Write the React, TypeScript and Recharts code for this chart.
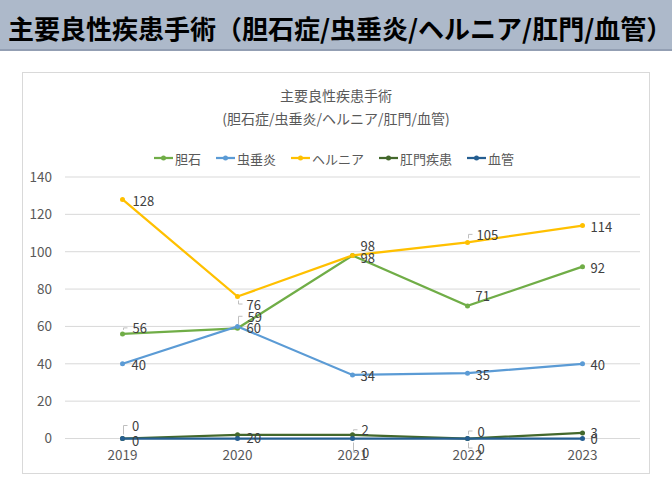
import React from 'react';
import { LineChart, Line, XAxis, YAxis, CartesianGrid } from 'recharts';

const years = ['2019', '2020', '2021', '2022', '2023'];
const gallstone = [56, 59, 98, 71, 92];
const appendicitis = [40, 60, 34, 35, 40];
const hernia = [128, 76, 98, 105, 114];
const anal = [0, 2, 2, 0, 3];
const vascular = [0, 0, 0, 0, 0];
const yTicks = [0, 20, 40, 60, 80, 100, 120, 140];

const FONT = '"Noto Sans CJK JP", "Noto Sans", sans-serif';

const SERIES = [
  { key: 'gallstone', name: '胆石', color: '#70ad47' },
  { key: 'appendicitis', name: '虫垂炎', color: '#5b9bd5' },
  { key: 'hernia', name: 'ヘルニア', color: '#ffc000' },
  { key: 'anal', name: '肛門疾患', color: '#43682b' },
  { key: 'vascular', name: '血管', color: '#255e91' },
];

const data = years.map((year, i) => ({
  year,
  gallstone: gallstone[i],
  appendicitis: appendicitis[i],
  hernia: hernia[i],
  anal: anal[i],
  vascular: vascular[i],
}));

// label placement per point: [dx, dy, leader line]
const labelPos: Record<string, [number, number, boolean][]> = {
  gallstone: [[10, -6, true], [10, -12, true], [8, 2.5, false], [8, -10, false], [8, 1, false]],
  appendicitis: [[9, 1, false], [9, 1, false], [8, 1, false], [8, 1, false], [8, 1, false]],
  hernia: [[10, 1, false], [9, 7.5, true], [8, -9.5, false], [9, -8, true], [8, 1, false]],
  anal: [[9.5, -13, true], [9, 3, false], [9, -5, true], [10, -7.5, true], [8, 0, false]],
  vascular: [[9.5, 2, false], [16.5, -1.5, false], [9.5, 14, true], [10, 9.5, true], [8, 0, false]],
};

const makeLabel = (key: string) => (props: any) => {
  const { x, y, value, index } = props;
  const [dx, dy, leader] = labelPos[key][index];
  return (
    <g key={`${key}-lbl-${index}`}>
      {leader && (
        <path
          d={
            dy < 0
              ? `M${x + 1},${y - 4} V${y + dy} H${x + 5}`
              : `M${x + 1},${y + 4} V${y + dy} H${x + 5}`
          }
          fill="none"
          stroke="#bfbfbf"
          strokeWidth={1}
        />
      )}
      <text
        x={x + dx}
        y={y + dy}
        dominantBaseline="central"
        fontSize={13}
        fontFamily={FONT}
        fill="#404040"
      >
        {value}
      </text>
    </g>
  );
};

const LegendIcon = ({ color }: { color: string }) => (
  <svg width={19} height={10} style={{ display: 'block' }}>
    <line x1={0} y1={5} x2={19} y2={5} stroke={color} strokeWidth={2.25} />
    <circle cx={9.5} cy={5} r={2.5} fill={color} />
  </svg>
);

export default function App() {
  return (
    <div
      style={{
        position: 'absolute',
        left: 0,
        top: 0,
        width: 672,
        height: 504,
        background: '#ffffff',
        fontFamily: FONT,
        overflow: 'hidden',
      }}
    >
      {/* page title band */}
      <div
        style={{
          position: 'absolute',
          left: 0,
          top: 0,
          width: 672,
          height: 49,
          background: '#adb9ca',
          borderBottom: '2px solid #939fb3',
        }}
      >
        <div
          style={{
            position: 'absolute',
            left: 8,
            top: 28,
            transform: 'translateY(-50%)',
            fontSize: 26,
            fontWeight: 700,
            color: '#000',
            whiteSpace: 'nowrap',
            lineHeight: 1,
          }}
        >
          主要良性疾患手術（胆石症/虫垂炎/ヘルニア/肛門/血管）
        </div>
      </div>

      {/* chart frame */}
      <div
        style={{
          position: 'absolute',
          left: 22,
          top: 72,
          width: 626,
          height: 400,
          border: '1px solid #d9d9d9',
        }}
      />

      {/* chart title */}
      <div
        style={{
          position: 'absolute',
          left: 0,
          width: 672,
          top: 84,
          textAlign: 'center',
          fontSize: 14,
          color: '#595959',
          lineHeight: '23px',
        }}
      >
        <div>主要良性疾患手術</div>
        <div>(胆石症/虫垂炎/ヘルニア/肛門/血管)</div>
      </div>

      {/* legend */}
      <div
        style={{
          position: 'absolute',
          left: 0,
          width: 668,
          top: 148,
          height: 20,
          display: 'flex',
          justifyContent: 'center',
          alignItems: 'center',
          gap: 15,
          fontSize: 13,
          color: '#595959',
        }}
      >
        {SERIES.map((s) => (
          <div key={s.key} style={{ display: 'flex', alignItems: 'center', gap: 2 }}>
            <LegendIcon color={s.color} />
            <span>{s.name}</span>
          </div>
        ))}
      </div>

      <div style={{ position: 'absolute', left: 0, top: 0 }}>
        <LineChart
          width={672}
          height={504}
          data={data}
          margin={{ top: 177, right: 32, bottom: 35.5, left: 0 }}
        >
          <CartesianGrid vertical={false} stroke="#d9d9d9" strokeWidth={1} />
          <XAxis
            dataKey="year"
            axisLine={false}
            tickLine={false}
            height={30}
            tickMargin={6}
            padding={{ left: 57.5, right: 57.5 }}
            tick={{ fontSize: 13.5, fill: '#595959', fontFamily: FONT }}
          />
          <YAxis
            domain={[0, 140]}
            ticks={yTicks}
            axisLine={false}
            tickLine={false}
            width={65}
            tickMargin={7}
            tick={{ fontSize: 13.5, fill: '#595959', fontFamily: FONT }}
          />
          {SERIES.map((s) => (
            <Line
              key={s.key}
              type="linear"
              dataKey={s.key}
              name={s.name}
              stroke={s.color}
              strokeWidth={2.25}
              dot={{ r: 2.5, fill: s.color, stroke: s.color, strokeWidth: 0 }}
              activeDot={false}
              label={makeLabel(s.key)}
              isAnimationActive={false}
            />
          ))}
        </LineChart>
      </div>
    </div>
  );
}
